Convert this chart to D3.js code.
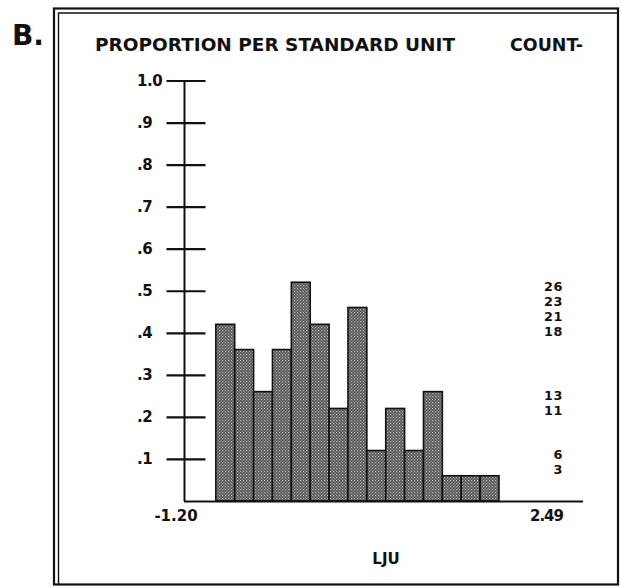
<!DOCTYPE html>
<html>
<head>
<meta charset="utf-8">
<script src="https://cdn.jsdelivr.net/npm/d3@7"></script>
<style>
  html, body { margin: 0; padding: 0; background: #fff; }
  svg { display: block; }
  text { font-family: "DejaVu Sans", "Open Sans", sans-serif; font-weight: 700; fill: #111; }
</style>
</head>
<body>
<svg id="chart" width="621" height="588"></svg>
<script>
// Histogram of LJU in standard units: counts per bin
const binCounts = [21, 18, 13, 18, 26, 21, 11, 23, 6, 11, 6, 13, 3, 3, 3];
const binStart = -1.20;          // left edge of the first bin (standard units)
const binWidth = 0.255;          // bin width (standard units)
const yTicks = [0.1, 0.2, 0.3, 0.4, 0.5, 0.6, 0.7, 0.8, 0.9, 1.0];
const yTickLabels = [".1", ".2", ".3", ".4", ".5", ".6", ".7", ".8", ".9", "1.0"];
const xEndLabels = ["-1.20", "2.49"];
const titleText = "PROPORTION PER STANDARD UNIT";
const countTitle = "COUNT-";
const xTitle = "LJU";
const panelLabel = "B.";

const total = d3.sum(binCounts);
const toProportion = c => c / (total * binWidth);

const svg = d3.select("#chart");

// halftone-like fill used by the bars
const defs = svg.append("defs");
const pat = defs.append("pattern")
  .attr("id", "dots").attr("patternUnits", "userSpaceOnUse")
  .attr("width", 3).attr("height", 3);
pat.append("rect").attr("width", 3).attr("height", 3).attr("fill", "#555");
pat.append("rect").attr("x", 0).attr("y", 0).attr("width", 1.2).attr("height", 1.2).attr("fill", "#b8b8b8");
pat.append("rect").attr("x", 1.5).attr("y", 1.5).attr("width", 1.2).attr("height", 1.2).attr("fill", "#a0a0a0");

// frame
svg.append("rect").attr("x", 54).attr("y", 8.5).attr("width", 564).attr("height", 576)
  .attr("fill", "none").attr("stroke", "#111").attr("stroke-width", 2.2);
svg.append("path").attr("d", "M58.5,584 V13 H618")
  .attr("fill", "none").attr("stroke", "#111").attr("stroke-width", 1.4);

// scales
const y = d3.scaleLinear().domain([0, 1]).range([501, 80.5]);
const x = d3.scaleLinear().domain([-1.63, 3.76]).range([184, 583]);

// bars
const bins = binCounts.map((c, i) => ({
  x0: binStart + i * binWidth,
  x1: binStart + (i + 1) * binWidth,
  count: c,
  p: toProportion(c)
}));

svg.append("g").selectAll("rect").data(bins).join("rect")
  .attr("x", d => x(d.x0))
  .attr("y", d => y(d.p))
  .attr("width", d => x(d.x1) - x(d.x0))
  .attr("height", d => y(0) - y(d.p))
  .attr("fill", "url(#dots)")
  .attr("stroke", "#111")
  .attr("stroke-width", 1.6);

// vertical axis with cross ticks
const yAxis = d3.axisLeft(y).tickValues(yTicks).tickSize(0).tickFormat("");
const gy = svg.append("g").attr("transform", `translate(${x.range()[0] + 0.5},0)`).call(yAxis);
gy.select(".domain").attr("d", `M0,${y(1)}V${y(0)}`).attr("stroke", "#111").attr("stroke-width", 2);
gy.selectAll(".tick line").attr("x1", -18).attr("x2", 21).attr("stroke", "#111").attr("stroke-width", 2.2);

svg.append("g").selectAll("text").data(yTicks).join("text")
  .attr("x", 137)
  .attr("y", d => y(d))
  .attr("dy", "0.36em")
  .attr("font-size", 15)
  .attr("letter-spacing", -0.5)
  .text((d, i) => yTickLabels[i]);

// horizontal axis
svg.append("line")
  .attr("x1", x.range()[0]).attr("x2", x.range()[1])
  .attr("y1", y(0) + 0.5).attr("y2", y(0) + 0.5)
  .attr("stroke", "#111").attr("stroke-width", 2.2);

svg.append("text").attr("x", 176).attr("y", 516).attr("dy", "0.36em")
  .attr("text-anchor", "middle").attr("font-size", 15).text(xEndLabels[0]);
svg.append("text").attr("x", 563).attr("y", 516).attr("dy", "0.36em")
  .attr("text-anchor", "end").attr("font-size", 15).attr("letter-spacing", -1).text(xEndLabels[1]);

svg.append("text").attr("x", 386).attr("y", 559).attr("dy", "0.36em")
  .attr("text-anchor", "middle").attr("font-size", 15).text(xTitle);

// count labels on the right: one per distinct count, stacked in groups
const distinct = Array.from(new Set(binCounts)).sort((a, b) => b - a);
const lineGap = 15;
const groups = [];
distinct.forEach(c => {
  const yy = y(toProportion(c));
  const g = groups[groups.length - 1];
  if (g && yy - g.lastIdeal < 30) { g.items.push(c); g.lastIdeal = yy; }
  else groups.push({ top: yy, lastIdeal: yy, items: [c] });
});
const countLabels = [];
groups.forEach(g => g.items.forEach((c, k) => countLabels.push({ c, yy: g.top + 4 + k * lineGap })));

svg.append("g").selectAll("text").data(countLabels).join("text")
  .attr("x", 563)
  .attr("y", d => d.yy)
  .attr("dy", "0.36em")
  .attr("text-anchor", "end")
  .attr("font-size", 12.8)
  .attr("letter-spacing", 0.6)
  .text(d => d.c);

// titles
svg.append("text").attr("x", 95).attr("y", 45).attr("dy", "0.36em")
  .attr("font-size", 17).attr("textLength", 360).attr("lengthAdjust", "spacingAndGlyphs")
  .text(titleText);
svg.append("text").attr("x", 510).attr("y", 45).attr("dy", "0.36em")
  .attr("font-size", 17).attr("textLength", 73).attr("lengthAdjust", "spacingAndGlyphs")
  .text(countTitle);

svg.append("text").attr("x", 12).attr("y", 35).attr("dy", "0.36em")
  .attr("font-size", 28).text(panelLabel);
</script>
</body>
</html>
